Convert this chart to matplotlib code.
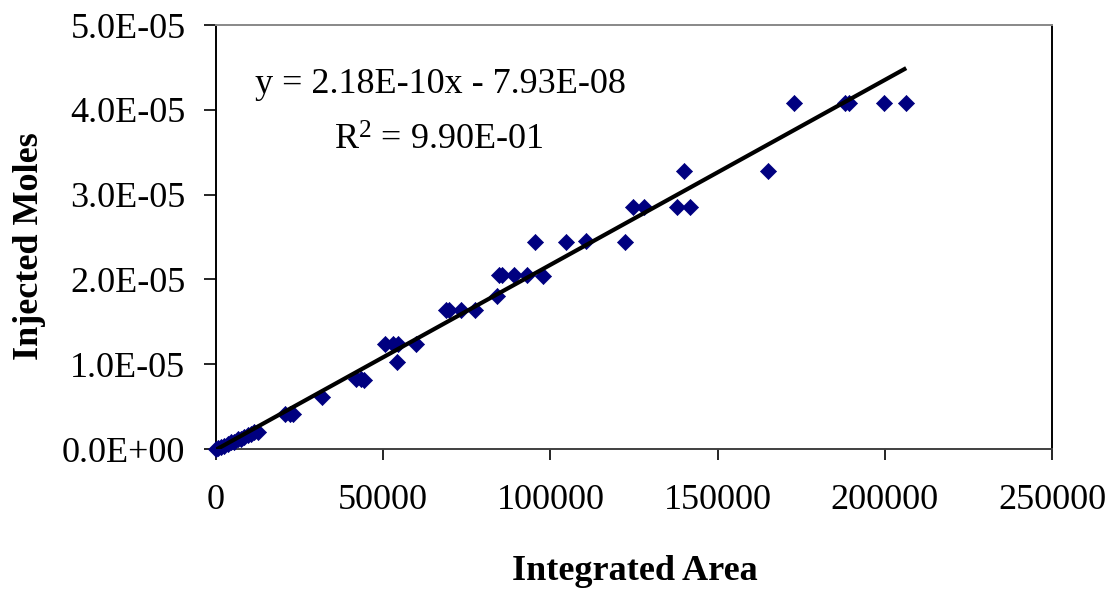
import matplotlib
matplotlib.use("Agg")
import matplotlib.pyplot as plt
import numpy as np

plt.rcParams['font.family'] = ['Liberation Serif', 'DejaVu Serif']
plt.rcParams['mathtext.fontset'] = 'custom'
plt.rcParams['mathtext.rm'] = 'Liberation Serif'
plt.rcParams['mathtext.it'] = 'Liberation Serif:italic'

# Data
area = [0, 600, 1500, 2500, 3500, 4500, 5500, 6500, 7500, 8500, 9500, 10500, 11500, 12500,
        20700, 22200, 23000, 31800,
        42000, 43500, 44300,
        50500, 52800, 54500, 54000, 59700,
        68700, 69800, 73200, 77400,
        84000, 84600, 85500, 89100, 93000, 97800,
        95400, 104700, 110700, 122400,
        124800, 128100, 138000, 141600,
        140100, 165000,
        172800, 188100, 189300, 199800, 206400]
moles = [0.0, 1.0e-7, 2.0e-7, 4.1e-7, 6.1e-7, 8.2e-7, 8.2e-7, 1.2e-6, 1.2e-6, 1.4e-6,
         1.6e-6, 1.8e-6, 2.0e-6, 2.05e-6,
         4.1e-6, 4.1e-6, 4.1e-6, 6.1e-6,
         8.2e-6, 8.2e-6, 8.1e-6,
         1.24e-5, 1.24e-5, 1.24e-5, 1.03e-5, 1.24e-5,
         1.64e-5, 1.64e-5, 1.64e-5, 1.64e-5,
         1.80e-5, 2.05e-5, 2.05e-5, 2.05e-5, 2.05e-5, 2.04e-5,
         2.44e-5, 2.44e-5, 2.45e-5, 2.44e-5,
         2.85e-5, 2.85e-5, 2.85e-5, 2.85e-5,
         3.28e-5, 3.28e-5,
         4.08e-5, 4.08e-5, 4.08e-5, 4.08e-5, 4.08e-5]
slope = 2.18e-10
intercept = -7.93e-08
eq_text = "y = 2.18E-10x - 7.93E-08"
r2_text = r"R$^{2}$ = 9.90E-01"
x_ticks = [0, 50000, 100000, 150000, 200000, 250000]
y_ticks = [0.0, 1e-5, 2e-5, 3e-5, 4e-5, 5e-5]
y_tick_labels = ["0.0E+00", "1.0E-05", "2.0E-05", "3.0E-05", "4.0E-05", "5.0E-05"]

W, H = 1115, 591
fig = plt.figure(figsize=(W / 100, H / 100), dpi=100)
ax = fig.add_axes([216 / W, 1 - 449 / H, (1052 - 216) / W, (449 - 25) / H])

ax.scatter(area, moles, marker='D', s=8.2 ** 2, color='#000080', edgecolors='#000080',
           linewidths=0.5, zorder=3, clip_on=False)
xl = np.array([min(area), max(area)])
ax.plot(xl, slope * xl + intercept, color='black', lw=3.0, zorder=4, solid_capstyle='butt')

ax.set_xlim(0, 250000)
ax.set_ylim(0, 5e-5)
ax.set_xticks(x_ticks)
ax.set_xticklabels([str(v) for v in x_ticks])
ax.set_yticks(y_ticks)
ax.set_yticklabels(y_tick_labels)
ax.tick_params(axis='x', direction='out', length=8, width=1.2, labelsize=26, pad=17, colors='black')
ax.tick_params(axis='y', direction='out', length=9, width=1.2, labelsize=26, pad=13, colors='black')
for s, c in [('left', 'black'), ('right', 'black'), ('top', '#888888'), ('bottom', '#404040')]:
    ax.spines[s].set_color(c)
    ax.spines[s].set_linewidth(1.4)

fig.text(635 / W, 1 - 571 / H, "Integrated Area", ha='center', va='center',
         fontsize=26, fontweight='bold')
fig.text(30 / W, 1 - 246 / H, "Injected Moles", ha='center', va='center',
         rotation=90, fontsize=26, fontweight='bold')

fig.text(440 / W, 1 - 93 / H, eq_text, ha='center', va='baseline', fontsize=26)
fig.text(439 / W, 1 - 150 / H, r2_text, ha='center', va='baseline', fontsize=26)

fig.savefig("out.png", dpi=100)
